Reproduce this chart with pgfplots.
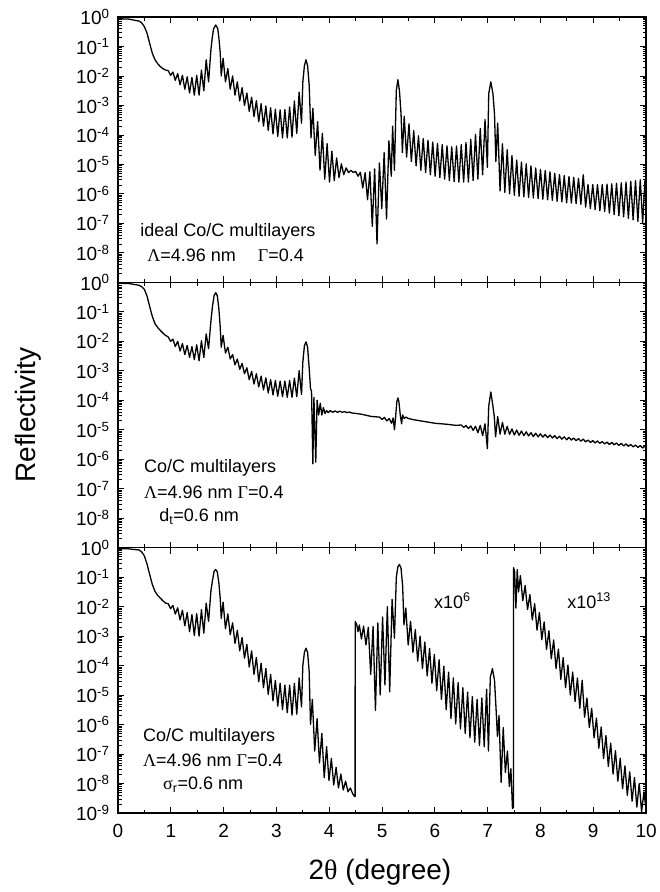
\documentclass[border=0pt]{standalone}
\usepackage{pgfplots}
\pgfplotsset{compat=1.18}
\usepackage{pgfplotstable}
\usepackage{fontspec}
\setmainfont{Liberation Sans}
\newfontfamily\grk{Liberation Serif}

% x = 2theta (deg), l = log10(reflectivity)
\pgfplotstableread{
x l
0 -0.06
0.2 -0.07
0.4 -0.14
0.45 -0.2
0.5 -0.33
0.55 -0.55
0.6 -0.9
0.65 -1.23
0.7 -1.45
0.75 -1.58
0.8 -1.68
0.85 -1.75
0.9 -1.8
0.95 -1.82
0.995 -1.98
1.04 -1.87
1.085 -2.15
1.13 -1.92
1.175 -2.3
1.22 -1.98
1.265 -2.45
1.31 -2.03
1.355 -2.58
1.40 -2.05
1.445 -2.65
1.49 -1.98
1.535 -2.65
1.58 -1.8
1.625 -2.5
1.67 -1.45
1.715 -2.2
1.76 -1.1
1.785 -0.7
1.81 -0.4
1.85 -0.27
1.89 -0.4
1.915 -0.8
1.935 -1.2
1.955 -2.0
1.99 -1.4
2.035 -2.2
2.08 -1.75
2.125 -2.45
2.17 -2.0
2.215 -2.65
2.26 -2.2
2.305 -2.85
2.35 -2.4
2.395 -3.0
2.44 -2.58
2.485 -3.2
2.53 -2.72
2.575 -3.38
2.62 -2.84
2.665 -3.55
2.71 -2.94
2.755 -3.7
2.80 -3.02
2.845 -3.85
2.89 -3.08
2.935 -3.97
2.98 -3.13
3.025 -4.05
3.07 -3.15
3.115 -4.1
3.16 -3.14
3.205 -4.1
3.25 -3.05
3.295 -4.08
3.34 -2.85
3.385 -3.95
3.43 -2.55
3.475 -3.6
3.50 -2.2
3.53 -1.65
3.56 -1.45
3.59 -1.65
3.62 -2.3
3.655 -4.1
3.69 -3.1
3.735 -4.7
3.78 -3.55
3.825 -5.2
3.87 -3.95
3.915 -5.5
3.96 -4.3
4.005 -5.6
4.05 -4.55
4.095 -5.55
4.14 -4.78
4.185 -5.45
4.23 -4.98
4.275 -5.35
4.32 -5.12
4.365 -5.28
4.41 -5.2
4.455 -5.27
4.50 -5.24
4.545 -5.4
4.59 -5.27
4.635 -5.8
4.68 -5.28
4.725 -6.2
4.77 -5.25
4.815 -7.1
4.86 -5.15
4.905 -7.7
4.95 -4.95
4.995 -6.5
5.04 -4.6
5.085 -6.85
5.13 -4.2
5.175 -5.4
5.2 -3.7
5.235 -5.2
5.27 -2.5
5.3 -2.13
5.33 -2.5
5.36 -3.3
5.385 -4.6
5.42 -3.37
5.465 -4.75
5.51 -3.62
5.555 -4.9
5.60 -3.85
5.645 -5.05
5.69 -4.03
5.735 -5.2
5.78 -4.12
5.825 -5.28
5.87 -4.18
5.915 -5.35
5.96 -4.24
6.005 -5.4
6.05 -4.29
6.095 -5.45
6.14 -4.33
6.185 -5.5
6.23 -4.37
6.275 -5.55
6.32 -4.4
6.365 -5.58
6.41 -4.38
6.455 -5.6
6.50 -4.33
6.545 -5.6
6.59 -4.26
6.635 -5.6
6.68 -4.15
6.725 -5.55
6.77 -3.98
6.815 -5.5
6.86 -3.78
6.905 -5.35
6.95 -3.48
6.995 -5.1
7.02 -2.6
7.06 -2.2
7.10 -2.6
7.13 -3.3
7.155 -4.9
7.19 -3.6
7.235 -5.9
7.28 -4.3
7.325 -5.95
7.37 -4.5
7.415 -6.0
7.46 -4.7
7.505 -6.05
7.55 -4.85
7.595 -6.08
7.64 -4.92
7.685 -6.1
7.73 -4.98
7.775 -6.12
7.82 -5.05
7.865 -6.14
7.91 -5.12
7.955 -6.16
8.00 -5.17
8.045 -6.18
8.09 -5.21
8.135 -6.2
8.18 -5.25
8.225 -6.22
8.27 -5.3
8.315 -6.25
8.36 -5.34
8.405 -6.27
8.45 -5.38
8.495 -6.3
8.54 -5.41
8.585 -6.31
8.63 -5.44
8.675 -6.33
8.72 -5.47
8.765 -6.35
8.81 -5.35
8.855 -6.45
8.90 -5.68
8.945 -6.5
8.99 -5.68
9.035 -6.53
9.08 -5.68
9.125 -6.57
9.17 -5.68
9.215 -6.6
9.26 -5.67
9.305 -6.65
9.35 -5.66
9.395 -6.7
9.44 -5.64
9.485 -6.74
9.53 -5.62
9.575 -6.78
9.62 -5.6
9.665 -6.83
9.71 -5.57
9.755 -6.88
9.80 -5.55
9.845 -6.93
9.89 -5.52
9.935 -6.98
9.98 -5.5
10.0 -5.8
}\topdata

\pgfplotstableread{
x l
0 -0.03
0.2 -0.04
0.4 -0.1
0.45 -0.15
0.5 -0.24
0.55 -0.47
0.6 -0.82
0.65 -1.16
0.7 -1.4
0.75 -1.53
0.8 -1.63
0.85 -1.72
0.9 -1.8
0.95 -1.85
0.995 -2.0
1.04 -1.93
1.085 -2.18
1.13 -2.0
1.175 -2.33
1.22 -2.08
1.265 -2.45
1.31 -2.14
1.355 -2.55
1.40 -2.18
1.445 -2.62
1.49 -2.12
1.535 -2.66
1.58 -1.98
1.625 -2.55
1.67 -1.75
1.715 -2.25
1.76 -1.3
1.79 -0.8
1.82 -0.45
1.85 -0.35
1.88 -0.45
1.91 -0.9
1.935 -1.5
1.955 -2.2
1.99 -1.8
2.035 -2.4
2.08 -2.2
2.125 -2.6
2.17 -2.45
2.215 -2.8
2.26 -2.6
2.305 -2.95
2.35 -2.75
2.395 -3.1
2.44 -2.9
2.485 -3.3
2.53 -3.02
2.575 -3.45
2.62 -3.1
2.665 -3.55
2.71 -3.18
2.755 -3.65
2.80 -3.24
2.845 -3.75
2.89 -3.3
2.935 -3.82
2.98 -3.33
3.025 -3.86
3.07 -3.35
3.115 -3.88
3.16 -3.35
3.205 -3.9
3.25 -3.33
3.295 -3.9
3.34 -3.25
3.385 -3.88
3.43 -3.0
3.475 -3.8
3.50 -2.7
3.53 -2.15
3.56 -2.02
3.59 -2.2
3.62 -2.9
3.645 -3.6
3.665 -3.7
3.69 -6.16
3.71 -3.9
3.745 -6.1
3.77 -4.0
3.80 -4.5
3.83 -4.1
3.86 -4.5
3.89 -4.25
3.92 -4.45
3.95 -4.35
3.98 -4.42
4.02 -4.35
4.065 -4.41
4.11 -4.36
4.155 -4.41
4.2 -4.37
4.245 -4.41
4.29 -4.38
4.335 -4.42
4.38 -4.4
4.425 -4.43
4.6 -4.47
4.8 -4.55
4.95 -4.57
5.0 -4.65
5.045 -4.58
5.09 -4.7
5.135 -4.62
5.18 -4.78
5.21 -4.6
5.235 -5.0
5.26 -4.5
5.28 -4.05
5.30 -3.92
5.32 -4.05
5.345 -4.5
5.37 -4.8
5.39 -4.5
5.42 -4.62
5.45 -4.57
5.5 -4.62
5.6 -4.66
5.8 -4.72
6.0 -4.78
6.2 -4.81
6.4 -4.85
6.5 -4.84
6.545 -4.92
6.59 -4.86
6.635 -4.96
6.68 -4.87
6.725 -5.02
6.77 -4.88
6.815 -5.1
6.86 -4.85
6.905 -5.2
6.95 -4.8
6.995 -5.64
7.02 -4.2
7.06 -3.72
7.10 -4.2
7.125 -4.55
7.15 -5.24
7.19 -4.55
7.235 -5.15
7.28 -4.75
7.325 -5.15
7.37 -4.88
7.415 -5.16
7.46 -4.97
7.505 -5.18
7.55 -5.01
7.595 -5.19
7.64 -5.04
7.685 -5.2
7.73 -5.07
7.775 -5.21
7.82 -5.1
7.865 -5.23
7.91 -5.12
7.955 -5.24
8.00 -5.14
8.045 -5.25
8.09 -5.16
8.135 -5.27
8.18 -5.18
8.225 -5.28
8.27 -5.2
8.315 -5.3
8.36 -5.22
8.405 -5.32
8.45 -5.24
8.495 -5.34
8.54 -5.26
8.585 -5.35
8.63 -5.28
8.675 -5.37
8.72 -5.3
8.765 -5.39
8.81 -5.32
8.855 -5.41
8.90 -5.35
8.945 -5.43
8.99 -5.37
9.035 -5.45
9.08 -5.38
9.125 -5.46
9.17 -5.4
9.215 -5.48
9.26 -5.42
9.305 -5.5
9.35 -5.43
9.395 -5.51
9.44 -5.45
9.485 -5.53
9.53 -5.46
9.575 -5.55
9.62 -5.48
9.665 -5.56
9.71 -5.5
9.755 -5.58
9.80 -5.52
9.845 -5.6
9.89 -5.54
9.935 -5.62
9.98 -5.55
10.0 -5.6
}\middata

\pgfplotstableread{
x l
0 -0.03
0.2 -0.04
0.4 -0.08
0.45 -0.15
0.5 -0.28
0.55 -0.56
0.6 -0.91
0.65 -1.25
0.7 -1.48
0.75 -1.62
0.8 -1.71
0.85 -1.8
0.9 -1.88
0.95 -1.9
0.995 -2.07
1.04 -1.96
1.085 -2.25
1.13 -2.04
1.175 -2.45
1.22 -2.12
1.265 -2.65
1.31 -2.2
1.355 -2.85
1.40 -2.27
1.445 -2.98
1.49 -2.24
1.535 -3.0
1.58 -2.1
1.625 -2.9
1.67 -1.88
1.715 -2.5
1.76 -1.45
1.79 -1.1
1.82 -0.8
1.85 -0.74
1.88 -0.82
1.91 -1.2
1.935 -1.7
1.955 -2.4
1.99 -1.85
2.035 -2.75
2.08 -2.25
2.125 -2.95
2.17 -2.55
2.215 -3.25
2.26 -2.8
2.305 -3.5
2.35 -3.05
2.395 -3.75
2.44 -3.28
2.485 -4.05
2.53 -3.5
2.575 -4.3
2.62 -3.72
2.665 -4.55
2.71 -3.92
2.755 -4.75
2.80 -4.1
2.845 -4.98
2.89 -4.3
2.935 -5.2
2.98 -4.5
3.025 -5.38
3.07 -4.6
3.115 -5.5
3.16 -4.66
3.205 -5.6
3.25 -4.66
3.295 -5.68
3.34 -4.6
3.385 -5.65
3.43 -4.42
3.475 -5.4
3.50 -4.0
3.53 -3.55
3.56 -3.41
3.59 -3.55
3.62 -4.2
3.645 -6.0
3.68 -5.15
3.725 -6.9
3.77 -5.8
3.815 -7.3
3.86 -6.3
3.905 -7.8
3.95 -6.75
3.995 -7.9
4.04 -7.15
4.085 -8.05
4.13 -7.45
4.175 -8.15
4.22 -7.68
4.265 -8.22
4.31 -7.92
4.355 -8.28
4.40 -8.15
4.445 -8.35
4.48 -8.44
4.49 -8.44
4.491 -2.5
4.52 -2.6
4.545 -2.85
4.57 -2.62
4.61 -3.1
4.65 -2.66
4.695 -3.3
4.74 -2.7
4.785 -4.3
4.83 -2.67
4.875 -5.52
4.92 -2.55
4.965 -5.0
5.01 -2.35
5.055 -4.66
5.10 -2.0
5.145 -4.89
5.19 -1.75
5.235 -3.07
5.27 -1.0
5.30 -0.65
5.33 -0.57
5.36 -0.7
5.39 -1.3
5.415 -2.62
5.45 -2.05
5.495 -3.3
5.54 -2.5
5.585 -3.55
5.63 -2.78
5.675 -3.85
5.72 -3.0
5.765 -4.1
5.81 -3.2
5.855 -4.35
5.90 -3.42
5.945 -4.6
5.99 -3.62
6.035 -4.85
6.08 -3.8
6.125 -5.15
6.17 -4.02
6.215 -5.5
6.26 -4.22
6.305 -5.8
6.35 -4.42
6.395 -5.98
6.44 -4.58
6.485 -6.15
6.53 -4.75
6.575 -6.3
6.62 -4.9
6.665 -6.45
6.71 -5.05
6.755 -6.6
6.80 -5.15
6.845 -6.71
6.89 -5.1
6.935 -6.75
6.98 -4.8
7.015 -6.9
7.05 -4.4
7.09 -4.1
7.13 -4.5
7.16 -5.5
7.185 -6.4
7.215 -5.69
7.255 -7.96
7.295 -6.1
7.335 -7.62
7.375 -6.9
7.41 -8.1
7.44 -7.5
7.47 -8.85
7.49 -8.8
7.491 -0.68
7.51 -0.8
7.535 -2.05
7.56 -0.74
7.585 -1.5
7.62 -0.95
7.665 -1.8
7.71 -1.28
7.755 -2.1
7.80 -1.59
7.845 -2.45
7.89 -1.9
7.935 -2.8
7.98 -2.2
8.025 -3.12
8.07 -2.52
8.115 -3.45
8.16 -2.82
8.205 -3.77
8.25 -3.13
8.295 -4.1
8.34 -3.44
8.385 -4.47
8.43 -3.73
8.475 -4.75
8.52 -3.98
8.565 -5.0
8.61 -4.22
8.655 -5.22
8.70 -4.42
8.745 -5.45
8.79 -4.5
8.835 -5.75
8.88 -5.1
8.925 -6.1
8.97 -5.45
9.015 -6.45
9.06 -5.78
9.105 -6.8
9.15 -6.08
9.195 -7.15
9.24 -6.37
9.285 -7.42
9.33 -6.63
9.375 -7.68
9.42 -6.88
9.465 -7.92
9.51 -7.14
9.555 -8.18
9.60 -7.4
9.645 -8.4
9.69 -7.6
9.735 -8.6
9.78 -7.8
9.825 -8.8
9.87 -8.0
9.915 -8.95
9.96 -8.28
10.0 -8.9
}\botdata

\begin{document}
\begin{tikzpicture}[
  curve/.style={black, line width=1.3pt, line join=round},
  note/.style={anchor=west, font=\fontsize{18}{20}\selectfont, inner sep=0pt}]
\begin{axis}[name=top, at={(0,0)}, anchor=north west,
  scale only axis, width=528pt, height=265.3pt,
  xmin=0, xmax=10, ymin=1e-9, ymax=1, ymode=log,
  xtick={0,1,2,3,4,5,6,7,8,9,10}, minor x tick num=1, xticklabels={},
  tick align=inside, major tick length=6pt, minor tick length=3.5pt,
  axis line style={line width=1.5pt},
  tick style={black, line width=0.8pt},
  tick label style={font=\fontsize{19}{19}\selectfont},
  ytick={1,1e-1,1e-2,1e-3,1e-4,1e-5,1e-6,1e-7,1e-8},
  minor ytick={2e-9,3e-9,4e-9,5e-9,6e-9,7e-9,8e-9,9e-9,2e-8,3e-8,4e-8,5e-8,6e-8,7e-8,8e-8,9e-8,2e-7,3e-7,4e-7,5e-7,6e-7,7e-7,8e-7,9e-7,2e-6,3e-6,4e-6,5e-6,6e-6,7e-6,8e-6,9e-6,2e-5,3e-5,4e-5,5e-5,6e-5,7e-5,8e-5,9e-5,2e-4,3e-4,4e-4,5e-4,6e-4,7e-4,8e-4,9e-4,2e-3,3e-3,4e-3,5e-3,6e-3,7e-3,8e-3,9e-3,2e-2,3e-2,4e-2,5e-2,6e-2,7e-2,8e-2,9e-2,2e-1,3e-1,4e-1,5e-1,6e-1,7e-1,8e-1,9e-1},
  yticklabels={10\textsuperscript{0},10\textsuperscript{-1},10\textsuperscript{-2},10\textsuperscript{-3},10\textsuperscript{-4},10\textsuperscript{-5},10\textsuperscript{-6},10\textsuperscript{-7},10\textsuperscript{-8}},
  yticklabel style={xshift=-5pt}]
\addplot[curve] table[x=x, y expr={10^(\thisrow{l})}] {\topdata};
\node[note] at (axis description cs:0.042,0.19) {ideal Co/C multilayers};
\node[note] at (axis description cs:0.055,0.10) {{\grk Λ}=4.96 nm\hspace{22pt}{\grk Γ}=0.4};
\end{axis}

\begin{axis}[name=mid, at={(top.south west)}, anchor=north west,
  scale only axis, width=528pt, height=265.3pt,
  xmin=0, xmax=10, ymin=1e-9, ymax=1, ymode=log,
  xtick={0,1,2,3,4,5,6,7,8,9,10}, minor x tick num=1, xticklabels={},
  tick align=inside, major tick length=6pt, minor tick length=3.5pt,
  axis line style={line width=1.5pt},
  tick style={black, line width=0.8pt},
  tick label style={font=\fontsize{19}{19}\selectfont},
  ytick={1,1e-1,1e-2,1e-3,1e-4,1e-5,1e-6,1e-7,1e-8},
  minor ytick={2e-9,3e-9,4e-9,5e-9,6e-9,7e-9,8e-9,9e-9,2e-8,3e-8,4e-8,5e-8,6e-8,7e-8,8e-8,9e-8,2e-7,3e-7,4e-7,5e-7,6e-7,7e-7,8e-7,9e-7,2e-6,3e-6,4e-6,5e-6,6e-6,7e-6,8e-6,9e-6,2e-5,3e-5,4e-5,5e-5,6e-5,7e-5,8e-5,9e-5,2e-4,3e-4,4e-4,5e-4,6e-4,7e-4,8e-4,9e-4,2e-3,3e-3,4e-3,5e-3,6e-3,7e-3,8e-3,9e-3,2e-2,3e-2,4e-2,5e-2,6e-2,7e-2,8e-2,9e-2,2e-1,3e-1,4e-1,5e-1,6e-1,7e-1,8e-1,9e-1},
  yticklabels={10\textsuperscript{0},10\textsuperscript{-1},10\textsuperscript{-2},10\textsuperscript{-3},10\textsuperscript{-4},10\textsuperscript{-5},10\textsuperscript{-6},10\textsuperscript{-7},10\textsuperscript{-8}},
  yticklabel style={xshift=-5pt},
  ylabel={Reflectivity},
  ylabel style={at={(axis description cs:-0.17,0.5)}, anchor=center, font=\fontsize{28}{28}\selectfont}]
\addplot[curve] table[x=x, y expr={10^(\thisrow{l})}] {\middata};
\node[note] at (axis description cs:0.049,0.30) {Co/C multilayers};
\node[note] at (axis description cs:0.049,0.21) {{\grk Λ}=4.96 nm {\grk Γ}=0.4};
\node[note] at (axis description cs:0.078,0.117) {d\textsubscript{t}=0.6 nm};
\end{axis}

\begin{axis}[name=bot, at={(mid.south west)}, anchor=north west,
  scale only axis, width=528pt, height=265.3pt,
  xmin=0, xmax=10, ymin=1e-9, ymax=1, ymode=log,
  xtick={0,1,2,3,4,5,6,7,8,9,10}, minor x tick num=1,
  xticklabels={0,1,2,3,4,5,6,7,8,9,10},
  tick align=inside, major tick length=6pt, minor tick length=3.5pt,
  axis line style={line width=1.5pt},
  tick style={black, line width=0.8pt},
  tick label style={font=\fontsize{19}{19}\selectfont},
  xticklabel style={yshift=-8pt},
  ytick={1,1e-1,1e-2,1e-3,1e-4,1e-5,1e-6,1e-7,1e-8,1e-9},
  minor ytick={2e-9,3e-9,4e-9,5e-9,6e-9,7e-9,8e-9,9e-9,2e-8,3e-8,4e-8,5e-8,6e-8,7e-8,8e-8,9e-8,2e-7,3e-7,4e-7,5e-7,6e-7,7e-7,8e-7,9e-7,2e-6,3e-6,4e-6,5e-6,6e-6,7e-6,8e-6,9e-6,2e-5,3e-5,4e-5,5e-5,6e-5,7e-5,8e-5,9e-5,2e-4,3e-4,4e-4,5e-4,6e-4,7e-4,8e-4,9e-4,2e-3,3e-3,4e-3,5e-3,6e-3,7e-3,8e-3,9e-3,2e-2,3e-2,4e-2,5e-2,6e-2,7e-2,8e-2,9e-2,2e-1,3e-1,4e-1,5e-1,6e-1,7e-1,8e-1,9e-1},
  yticklabels={10\textsuperscript{0},10\textsuperscript{-1},10\textsuperscript{-2},10\textsuperscript{-3},10\textsuperscript{-4},10\textsuperscript{-5},10\textsuperscript{-6},10\textsuperscript{-7},10\textsuperscript{-8},10\textsuperscript{-9}},
  yticklabel style={xshift=-5pt},
  xlabel={2{\grk θ} (degree)},
  xlabel style={at={(axis description cs:0.496,-0.222)}, anchor=center, font=\fontsize{28}{28}\selectfont}]
\addplot[curve] table[x=x, y expr={10^(\thisrow{l})}] {\botdata};
\node[note] at (axis description cs:0.047,0.287) {Co/C multilayers};
\node[note] at (axis description cs:0.047,0.20) {{\grk Λ}=4.96 nm {\grk Γ}=0.4};
\node[note] at (axis description cs:0.085,0.106) {{\grk σ}\textsubscript{r}=0.6 nm};
\node[font=\fontsize{18}{20}\selectfont] at (axis description cs:0.633,0.80) {x10\textsuperscript{6}};
\node[font=\fontsize{18}{20}\selectfont] at (axis description cs:0.892,0.80) {x10\textsuperscript{13}};
\end{axis}

\path ([xshift=-118pt,yshift=-79pt]bot.south west) rectangle ([xshift=12pt,yshift=17pt]top.north east);
\end{tikzpicture}
\end{document}
